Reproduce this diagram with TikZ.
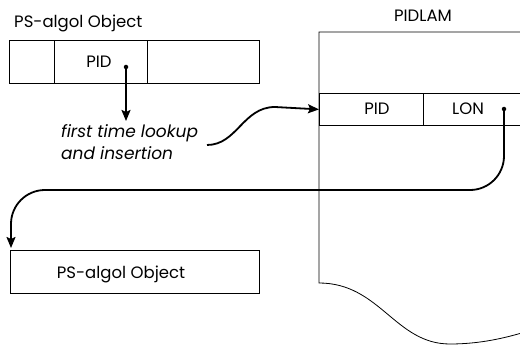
\documentclass[tikz,border=0pt]{standalone}
\usepackage{fontspec}
\setmainfont{Poppins}
\usetikzlibrary{arrows.meta}
\begin{document}
\begin{tikzpicture}[x=1pt,y=-1pt,
  cell/.style={draw,line width=0.8pt,minimum height=43pt,inner sep=0pt,anchor=north west},
  rowcell/.style={draw,line width=0.8pt,minimum height=32pt,inner sep=0pt,anchor=north west},
  conn/.style={line width=1.8pt,-{Stealth[length=11pt,width=9pt,inset=2pt]}},
  txt/.style={font=\fontsize{16.5}{19}\selectfont,inner sep=0pt},
  dotmark/.style={circle,fill,inner sep=0pt,minimum size=4.5pt}]
\useasboundingbox (0,0) rectangle (520,345);
% top object
\node[txt,anchor=base west] (t1) at (14,28) {PS-algol Object};
\node[cell,minimum width=45pt] (c1) at (9,40) {};
\node[cell,minimum width=93pt] (c2) at (54,40) {};
\node[cell,minimum width=112pt] (c3) at (147,40) {};
\node[txt,anchor=base] (p1) at (99,68) {PID};
\node[dotmark] (d1) at (126,67) {};
% PIDLAM
\node[txt,anchor=base] (t2) at (423,22) {PIDLAM};
\draw[line width=0.8pt] (525,32) -- (319,32) -- (319,283)
  .. controls (380,283) and (395,344) .. (450,344)
  .. controls (480,344) and (505,338) .. (525,332);
\node[rowcell,minimum width=104pt] (pid) at (319,93) {};
\node[rowcell,minimum width=104pt] (lon) at (423,93) {};
\node[txt,anchor=base] (p2) at (377,114) {PID};
\node[txt,anchor=base] (l2) at (468,114) {LON};
\node[dotmark] (d2) at (504,109) {};
% lookup text
\node[txt,anchor=base west,font=\fontsize{17}{19}\itshape\selectfont] (look) at (61,138) {first time lookup};
\node[txt,anchor=base west,font=\fontsize{17}{19}\itshape\selectfont] (look2) at (61,160) {and insertion};
\coordinate (a1) at (126,121);
\draw[conn] (d1.center) -- (a1);
\coordinate (s1) at (207,145);
\coordinate (s2) at (275,107);
\draw[conn] (s1) .. controls (237,145) and (243,107) .. (s2) -- (pid.west);
% bottom object
\node[cell,minimum width=249pt] (b1) at (10,250) {};
\node[txt,anchor=base] (p3) at (121,278) {PS-algol Object};
\coordinate (a2) at (11,248);
\draw[conn,rounded corners=34pt] (d2.center) -- (504,190) -- (11,190) -- (a2);
\end{tikzpicture}
\end{document}
